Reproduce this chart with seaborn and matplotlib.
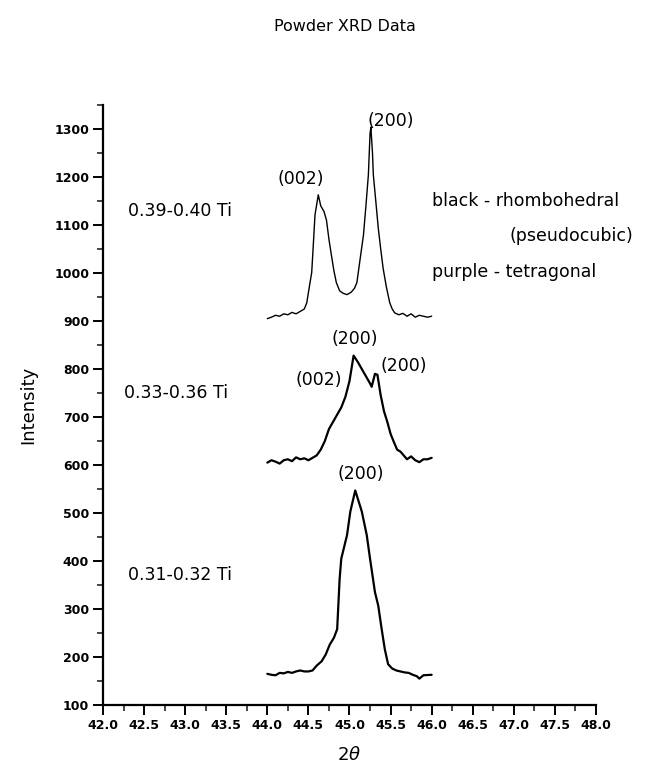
import numpy as np
import pandas as pd
import matplotlib
matplotlib.use("Agg")
import matplotlib.pyplot as plt
import seaborn as sns
from matplotlib.ticker import MultipleLocator

# ---- data ----
top_x = [44.00, 44.05, 44.10, 44.15, 44.20, 44.25, 44.30, 44.35, 44.40, 44.45, 44.48, 44.51, 44.54, 44.56,
         44.58, 44.62, 44.65, 44.69, 44.72, 44.75, 44.78, 44.81, 44.84, 44.88, 44.92, 44.97, 45.02, 45.06,
         45.09, 45.13, 45.17, 45.20, 45.23, 45.25, 45.26, 45.28, 45.29, 45.32, 45.35, 45.38, 45.41, 45.45,
         45.49, 45.52, 45.55, 45.60, 45.65, 45.70, 45.75, 45.80, 45.85, 45.90, 45.95, 46.00]
top_y = [905, 908, 912, 910, 915, 913, 918, 915, 920, 925, 938, 970, 1001, 1060,
         1121, 1163, 1140, 1128, 1110, 1070, 1037, 1005, 980, 963, 958, 955, 960, 968,
         980, 1030, 1079, 1140, 1205, 1290, 1304, 1250, 1205, 1150, 1094, 1050, 1009, 970,
         938, 925, 917, 913, 916, 910, 915, 908, 912, 910, 908, 910]

mid_x = [44.00, 44.05, 44.10, 44.15, 44.20, 44.25, 44.30, 44.35, 44.40, 44.45, 44.50, 44.55, 44.60, 44.65,
         44.70, 44.75, 44.80, 44.85, 44.90, 44.95, 45.00, 45.05, 45.10, 45.15, 45.20, 45.25, 45.27, 45.31,
         45.34, 45.38, 45.42, 45.46, 45.50, 45.54, 45.58, 45.62, 45.66, 45.70, 45.75, 45.80, 45.85, 45.90,
         45.95, 46.00]
mid_y = [605, 610, 607, 603, 610, 612, 608, 616, 612, 614, 610, 615, 620, 632,
         650, 675, 690, 705, 720, 742, 775, 828, 815, 800, 785, 770, 763, 790,
         788, 745, 712, 690, 665, 648, 632, 628, 620, 612, 618, 610, 606, 612,
         612, 615]

bot_x = [44.00, 44.05, 44.10, 44.15, 44.20, 44.25, 44.30, 44.35, 44.40, 44.45, 44.50, 44.55, 44.60, 44.66,
         44.71, 44.76, 44.81, 44.85, 44.88, 44.90, 44.97, 45.01, 45.07, 45.15, 45.21, 45.25, 45.31, 45.35,
         45.39, 45.43, 45.47, 45.52, 45.57, 45.62, 45.67, 45.72, 45.77, 45.82, 45.85, 45.90, 46.00]
bot_y = [165, 163, 162, 167, 166, 169, 167, 170, 172, 170, 170, 172, 182, 191,
         205, 226, 240, 258, 363, 405, 454, 503, 547, 503, 454, 405, 335, 307,
         260, 216, 185, 176, 172, 170, 168, 167, 163, 160, 155, 162, 163]

sample_labels = ["0.39-0.40 Ti", "0.33-0.36 Ti", "0.31-0.32 Ti"]
peak_labels = ["(002)", "(200)", "(002)", "(200)", "(200)", "(200)"]
legend_lines = ["black - rhombohedral", "(pseudocubic)", "purple - tetragonal"]
x_ticks = [42.0, 42.5, 43.0, 43.5, 44.0, 44.5, 45.0, 45.5, 46.0, 46.5, 47.0, 47.5, 48.0]
y_ticks = [100, 200, 300, 400, 500, 600, 700, 800, 900, 1000, 1100, 1200, 1300]

df = pd.concat([
    pd.DataFrame({"two_theta": top_x, "intensity": top_y, "sample": sample_labels[0]}),
    pd.DataFrame({"two_theta": mid_x, "intensity": mid_y, "sample": sample_labels[1]}),
    pd.DataFrame({"two_theta": bot_x, "intensity": bot_y, "sample": sample_labels[2]}),
])

sns.set_theme(style="ticks")
plt.rcParams['font.family'] = ['DejaVu Sans']
plt.rcParams['text.color'] = 'black'
plt.rcParams['axes.labelcolor'] = 'black'

fig = plt.figure(figsize=(6.45, 7.74), dpi=100)
ax = fig.add_axes([0.1597, 0.0891, 0.7643, 0.7752])

widths = {sample_labels[0]: 1.0, sample_labels[1]: 1.6, sample_labels[2]: 1.6}
for s in sample_labels:
    sns.lineplot(data=df[df["sample"] == s], x="two_theta", y="intensity", ax=ax,
                 color="black", lw=widths[s], sort=False, estimator=None, legend=False)

ax.set_xlim(42, 48)
ax.set_ylim(100, 1350)
ax.set_xticks(x_ticks)
ax.set_xticklabels([f"{v:.1f}" for v in x_ticks])
ax.set_yticks(y_ticks)
ax.set_yticklabels([str(v) for v in y_ticks])
ax.xaxis.set_minor_locator(MultipleLocator(0.25))
ax.yaxis.set_minor_locator(MultipleLocator(50))
ax.tick_params(axis="both", which="major", direction="out", length=7, width=1.4,
               labelsize=9, colors="black", pad=3)
ax.tick_params(axis="both", which="minor", direction="out", length=4, width=1.2)
for lab in ax.get_xticklabels() + ax.get_yticklabels():
    lab.set_fontweight("bold")
sns.despine(ax=ax)
for sp in ("left", "bottom"):
    ax.spines[sp].set_linewidth(1.6)
    ax.spines[sp].set_color("black")

ax.set_xlabel(r"2$\theta$", fontsize=13, labelpad=10)
ax.set_ylabel("Intensity", fontsize=13, labelpad=12)

fig.text(0.535, 0.966, "Powder XRD Data", ha="center", va="center", fontsize=11.5)

# sample labels
fs_s = 12.5
ax.text(42.30, 1130, sample_labels[0], fontsize=fs_s, va="center", ha="left")
ax.text(42.25, 750, sample_labels[1], fontsize=fs_s, va="center", ha="left")
ax.text(42.30, 370, sample_labels[2], fontsize=fs_s, va="center", ha="left")

# peak labels
fs_p = 12.5
ax.text(44.41, 1195, peak_labels[0], fontsize=fs_p, ha="center", va="center")
ax.text(45.50, 1317, peak_labels[1], fontsize=fs_p, ha="center", va="center")
ax.text(44.62, 778, peak_labels[2], fontsize=fs_p, ha="center", va="center")
ax.text(45.07, 862, peak_labels[3], fontsize=fs_p, ha="center", va="center")
ax.text(45.66, 807, peak_labels[4], fontsize=fs_p, ha="center", va="center")
ax.text(45.14, 582, peak_labels[5], fontsize=fs_p, ha="center", va="center")

# legend text
fs_l = 12.5
ax.text(46.0, 1150, legend_lines[0], fontsize=fs_l, ha="left", va="center")
ax.text(48.45, 1077, legend_lines[1], fontsize=fs_l, ha="right", va="center")
ax.text(46.0, 1003, legend_lines[2], fontsize=fs_l, ha="left", va="center")

fig.savefig("out.png", dpi=100)
